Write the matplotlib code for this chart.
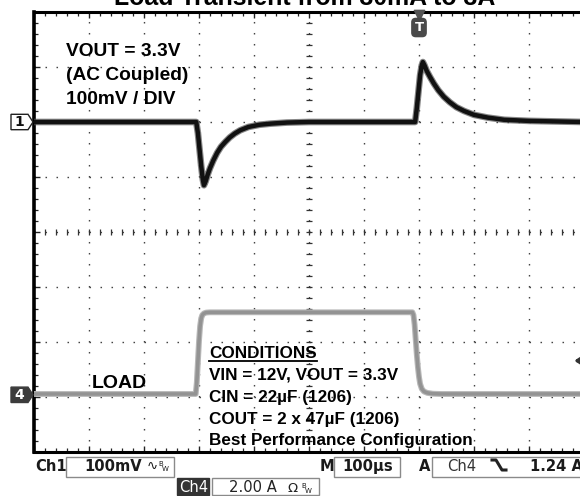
import matplotlib
matplotlib.use("Agg")
import matplotlib.pyplot as plt
import numpy as np
import matplotlib.transforms as mtransforms
from matplotlib.patches import Polygon, Rectangle
from matplotlib.lines import Line2D

# ---------------- data ----------------
title = "Load Transient from 30mA to 3A"

# Channel 1: VOUT, AC coupled, mV relative to the settled level
ch1_t = [0, 100, 200, 295, 298, 301, 304, 307, 309, 312, 316, 320, 326, 333, 340,
         348, 356, 365, 375, 390, 410, 430, 460, 500, 600, 693, 696, 699, 702,
         705, 707, 710, 714, 720, 727, 735, 745, 756, 768, 782, 800, 825, 855,
         900, 950, 1000]
ch1_mv = [0, 0, 0, 0, -20, -50, -80, -105, -115, -108, -95, -84, -70, -56, -45,
          -36, -28, -21, -15, -9, -5, -3, -1, 0, 0, 0, 25, 55, 85,
          103, 109, 103, 93, 82, 70, 58, 46, 36, 27, 20, 13, 8, 4,
          2, 1, 0]

# Channel 4: load current, A
ch4_t = [0, 100, 200, 294, 296, 298, 300, 302, 304, 306, 309, 313, 320, 400,
         500, 600, 688, 690, 692, 694, 696, 698, 700, 702, 705, 709, 715, 725,
         740, 800, 900, 1000]
ch4_a = [0.03, 0.03, 0.03, 0.03, 0.45, 1.2, 1.95, 2.5, 2.78, 2.9, 2.96, 2.99,
         3.0, 3.0, 3.0, 3.0, 3.0, 2.9, 2.55, 2.0, 1.45, 1.0, 0.65, 0.4, 0.22,
         0.12, 0.07, 0.04, 0.03, 0.03, 0.03, 0.03]

CH1_POS, CH1_SCALE = 2.0, 100.0     # div, mV/div
CH4_POS, CH4_SCALE = -2.96, 2.0     # div, A/div
TRIG_TIME = 700                     # us
TRIG_LEVEL = 1.24                   # A

vout_lines = ["VOUT = 3.3V", "(AC Coupled)", "100mV / DIV"]
cond_head = "CONDITIONS"
cond_lines = ["VIN = 12V, VOUT = 3.3V", "CIN = 22\u00b5F (1206)",
              "COUT = 2 x 47\u00b5F (1206)", "Best Performance Configuration"]

# ---------------- figure ----------------
W, H = 580, 496
fig = plt.figure(figsize=(W / 100, H / 100), dpi=100)
fig.patch.set_facecolor("white")


def fx(px):
    return px / W


def fy(py):
    return 1 - py / H


L, R, T, B = 34, 584, 12, 452
ax = fig.add_axes([fx(L), fy(B), (R - L) / W, (B - T) / H])
ax.set_xlim(0, 1000)
ax.set_ylim(-4, 4)
ax.set_facecolor("white")

# graticule
ax.set_xticks(np.arange(0, 1001, 100))
ax.set_yticks(np.arange(-4, 4.01, 1))
ax.set_xticks(np.arange(0, 1001, 20), minor=True)
ax.set_yticks(np.arange(-4, 4.01, 0.2), minor=True)
ax.tick_params(which="both", direction="in", top=True, bottom=True, left=True,
               right=False, labelbottom=False, labelleft=False, color="#222")
ax.tick_params(which="major", length=4.5, width=1.0)
ax.tick_params(which="minor", length=3, width=0.9)
ax.grid(which="major", linestyle=(0, (1.1, 6.82)), linewidth=1.0, color="#444")
ax.set_axisbelow(True)
ax.spines["left"].set_linewidth(2.6)
for s in ["top", "bottom"]:
    ax.spines[s].set_linewidth(2.2)
ax.spines["right"].set_visible(False)

# center cross ticks
cx = np.arange(0, 1001, 20)
ax.plot(cx, np.zeros_like(cx, dtype=float), ls="none", marker="|", ms=5,
        mew=0.9, color="#333", zorder=1)
cy = np.arange(-4, 4.01, 0.2)
ax.plot(np.full_like(cy, 500.0), cy, ls="none", marker="_", ms=5, mew=0.9,
        color="#333", zorder=1)

# traces (a soft wider band under each to mimic the scope's persistence)
y1 = CH1_POS + np.array(ch1_mv) / CH1_SCALE
y4 = CH4_POS + np.array(ch4_a) / CH4_SCALE
ax.plot(ch4_t, y4, color="#b8b8b8", lw=4.2, solid_joinstyle="round", zorder=3)
ax.plot(ch4_t, y4, color="#939393", lw=2.6, solid_joinstyle="round", zorder=3)
ax.plot(ch1_t, y1, color="#555555", lw=4.8, alpha=0.7, solid_joinstyle="round",
        zorder=3)
ax.plot(ch1_t, y1, color="#111111", lw=3.2, solid_joinstyle="round", zorder=3)

# channel ground markers
bl = mtransforms.blended_transform_factory(fig.transFigure, ax.transData)
hh = 0.14
m1 = Polygon([[fx(11), CH1_POS + hh], [fx(28), CH1_POS + hh], [fx(33), CH1_POS],
              [fx(28), CH1_POS - hh], [fx(11), CH1_POS - hh]], closed=True,
             transform=bl, fc="white", ec="#222", lw=1.0, clip_on=False)
fig.patches.append(m1)
fig.text(fx(19.5), CH1_POS, "1", transform=bl, ha="center", va="center",
         fontsize=10, weight="bold", family="DejaVu Sans", color="#111")
m4 = Polygon([[fx(11), CH4_POS + hh], [fx(28), CH4_POS + hh], [fx(33), CH4_POS],
              [fx(28), CH4_POS - hh], [fx(11), CH4_POS - hh]], closed=True,
             transform=bl, fc="#3c3c3c", ec="#3c3c3c", lw=1.0, clip_on=False)
fig.patches.append(m4)
fig.text(fx(19.5), CH4_POS, "4", transform=bl, ha="center", va="center",
         fontsize=10, weight="bold", family="DejaVu Sans", color="white")

# trigger time marker
bt = mtransforms.blended_transform_factory(ax.transData, fig.transFigure)
ax.scatter([TRIG_TIME], [fy(15)], transform=bt, marker="v", s=55,
           color="#555", clip_on=False, zorder=5)
fig.text(TRIG_TIME, fy(27.5), "T", transform=bt, ha="center", va="center",
         fontsize=9.5, weight="bold", color="white", family="DejaVu Sans",
         bbox=dict(boxstyle="round,pad=0.25,rounding_size=0.35", fc="#4a4a4a",
                   ec="none"))

# trigger level marker (right edge)
y_trig = CH4_POS + TRIG_LEVEL / CH4_SCALE
ax.annotate("", xy=(977, y_trig), xytext=(1000, y_trig),
            arrowprops=dict(arrowstyle="-|>,head_length=0.7,head_width=0.45",
                            color="#333", lw=2.4), annotation_clip=False)

# title (cut off by the top of the image)
fig.text(fx(305), fy(5), title, ha="center", va="baseline", fontsize=17.9,
         weight="bold", family="Liberation Sans", color="black")

# annotation text
for i, s in enumerate(vout_lines):
    fig.text(fx(66), fy(56.5 + 23.8 * i), s, ha="left", va="baseline",
             fontsize=13.8, weight="bold", family="Liberation Sans", color="black")

fig.text(fx(92), fy(387.5), "LOAD", ha="left", va="baseline", fontsize=14,
         weight="bold", family="Liberation Sans", color="black")

th = fig.text(fx(209), fy(358), cond_head, ha="left", va="baseline",
              fontsize=12.3, weight="bold", family="Liberation Sans", color="black")
for i, s in enumerate(cond_lines):
    fig.text(fx(209), fy(380 + 21.8 * i), s, ha="left", va="baseline",
             fontsize=12.3, weight="bold", family="Liberation Sans", color="black")

fig.canvas.draw()
bb = th.get_window_extent()
fig.add_artist(Line2D([bb.x0 / W, bb.x1 / W], [fy(360.5), fy(360.5)],
                      transform=fig.transFigure, color="black", lw=1.3))

# ---------------- scope readout ----------------
RF = "DejaVu Sans"


def box(x0, y0, x1, y1, fc="none", ec="#8a8a8a"):
    fig.add_artist(Rectangle((fx(x0), fy(y1)), (x1 - x0) / W, (y1 - y0) / H,
                             transform=fig.transFigure, fc=fc, ec=ec, lw=1.0,
                             clip_on=False))


def rtext(x, y, s, size=10.6, weight="bold", color="#1a1a1a"):
    fig.text(fx(x), fy(y), s, ha="left", va="baseline", fontsize=size,
             weight=weight, family=RF, color=color)


# row 1
rtext(35, 471, "Ch1")
box(66, 457, 174, 477)
rtext(84, 471, "100mV")
rtext(147, 470, "\u223f", size=9.5, weight="normal")
rtext(158, 466, "B", size=5, weight="normal")
rtext(162, 471, "W", size=5, weight="normal")

rtext(320, 471, "M")
box(334, 457, 400, 477)
rtext(342, 471, "100\u00b5s")

rtext(419, 471, "A")
box(432, 457, 640, 477)
rtext(447, 471, "Ch4", weight="normal", color="#333")
fig.add_artist(Line2D([fx(492), fx(496), fx(502), fx(506)],
                      [fy(460), fy(460), fy(470), fy(470)],
                      transform=fig.transFigure, color="#222", lw=2.2))
rtext(530, 471, "1.24 A")

# row 2
box(177, 478, 209, 495, fc="#333333", ec="#333333")
rtext(179, 492, "Ch4", weight="normal", color="white")
box(212, 478, 319, 495)
rtext(229, 492, "2.00 A", weight="normal", color="#222")
rtext(288, 492, "\u03a9", size=9.5, weight="normal", color="#222")
rtext(301, 488, "B", size=5, weight="normal")
rtext(305, 493, "W", size=5, weight="normal")

fig.savefig("out.png", dpi=100, facecolor="white")
